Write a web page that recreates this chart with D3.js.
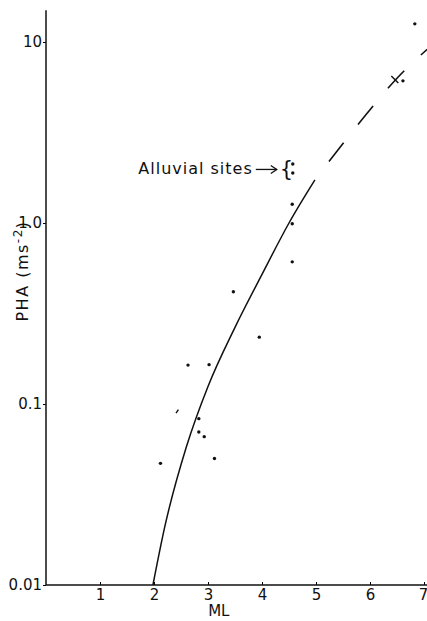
<!DOCTYPE html>
<html>
<head>
<meta charset="utf-8">
<script src="https://cdn.jsdelivr.net/npm/d3@7"></script>
<style>
  body { margin: 0; background: #fff; }
  svg { display: block; }
  text { font-family: "DejaVu Sans", sans-serif; fill: #111; }
</style>
</head>
<body>
<div id="chart"></div>
<script>
var width = 427;
var height = 621;

// observed PHA vs ML
var pointML  = [2.12, 2.63, 2.83, 2.83, 2.93, 3.02, 3.12, 3.47, 3.95, 4.56, 4.56, 4.56, 6.61, 6.83];
var pointPHA = [0.047, 0.164, 0.083, 0.070, 0.066, 0.165, 0.050, 0.417, 0.234, 0.61, 0.99, 1.27, 6.1, 12.6];

// alluvial sites
var alluvialML  = [4.57, 4.57];
var alluvialPHA = [2.12, 1.89];

// short hand-drawn marks instead of dots
var markML  = [2.43, 6.46];
var markPHA = [0.091, 6.2];

// fitted curve, solid part and dashed extrapolation
var curveML  = [1.98, 2.2, 2.6, 3.0, 3.5, 4.0, 4.5, 4.98];
var curvePHA = [0.010, 0.021, 0.058, 0.125, 0.265, 0.52, 1.0, 1.73];
var dashML   = [4.98, 5.5, 6.0, 6.5, 7.06];
var dashPHA  = [1.73, 2.75, 4.22, 6.31, 9.12];

var xTicks = [1, 2, 3, 4, 5, 6, 7];
var yTicks = [0.01, 0.1, 1, 10];
var yTickLabels = ["0.01", "0.1", "1.0", "10"];

var x = d3.scaleLinear().domain([0, 7]).range([46, 424]);
var y = d3.scaleLog().domain([0.01, 10]).range([585, 42]);

var svg = d3.select("#chart")
  .append("svg")
  .attr("width", width)
  .attr("height", height);

// axes
var xAxis = d3.axisBottom(x)
  .tickValues(xTicks)
  .tickFormat(d3.format("d"))
  .tickSizeInner(-3)
  .tickSizeOuter(0)
  .tickPadding(4);

var gx = svg.append("g")
  .attr("transform", "translate(0," + y(0.01) + ")")
  .call(xAxis);
gx.select(".domain").remove();
gx.selectAll("text")
  .style("font-size", "15px")
  .style("font-family", "DejaVu Sans, sans-serif")
  .attr("dx", function (d) { return d === 7 ? -1 : 0; });

var yAxis = d3.axisLeft(y)
  .tickValues(yTicks)
  .tickFormat(function (d, i) { return yTickLabels[i]; })
  .tickSizeInner(3)
  .tickSizeOuter(0)
  .tickPadding(1);

var gy = svg.append("g")
  .attr("transform", "translate(" + x(0) + ",0)")
  .call(yAxis);
gy.select(".domain").remove();
gy.selectAll("text").style("font-size", "15px").style("font-family", "DejaVu Sans, sans-serif");

svg.append("line")
  .attr("x1", x(0)).attr("x2", width)
  .attr("y1", y(0.01)).attr("y2", y(0.01))
  .attr("stroke", "#111").attr("stroke-width", 1.5);

svg.append("line")
  .attr("x1", x(0)).attr("x2", x(0))
  .attr("y1", y(0.01)).attr("y2", y(15))
  .attr("stroke", "#111").attr("stroke-width", 1.5);

// axis titles
svg.append("text")
  .attr("x", x(3.2))
  .attr("y", 616)
  .attr("text-anchor", "middle")
  .style("font-size", "15px")
  .text("ML");

var ylab = svg.append("text")
  .attr("transform", "translate(28,271) rotate(-90)")
  .attr("text-anchor", "middle")
  .style("font-size", "16px")
  .style("letter-spacing", "1.5px");
ylab.append("tspan").text("PHA (ms");
ylab.append("tspan").attr("dy", -6).style("font-size", "12px").text("-2");
ylab.append("tspan").attr("dy", 6).text(")");

// curve
var line = d3.line()
  .x(function (d) { return x(d[0]); })
  .y(function (d) { return y(d[1]); })
  .curve(d3.curveMonotoneX);

svg.append("path")
  .datum(d3.zip(curveML, curvePHA))
  .attr("d", line)
  .attr("fill", "none")
  .attr("stroke", "#111")
  .attr("stroke-width", 1.5);

svg.append("path")
  .datum(d3.zip(dashML, dashPHA))
  .attr("d", line)
  .attr("fill", "none")
  .attr("stroke", "#111")
  .attr("stroke-width", 1.6)
  .attr("stroke-dasharray", "24 23")
  .attr("stroke-dashoffset", 24);

// points
svg.selectAll("circle.pt")
  .data(d3.zip(pointML.concat(alluvialML), pointPHA.concat(alluvialPHA)))
  .enter()
  .append("circle")
  .attr("class", "pt")
  .attr("cx", function (d) { return x(d[0]); })
  .attr("cy", function (d) { return y(d[1]); })
  .attr("r", 1.7)
  .attr("fill", "#111");

svg.selectAll("line.mark")
  .data(d3.zip(markML, markPHA))
  .enter()
  .append("line")
  .attr("class", "mark")
  .attr("x1", function (d, i) { return x(d[0]) - (i ? 3.5 : 1.2); })
  .attr("y1", function (d, i) { return y(d[1]) - (i ? 3.5 : -1.8); })
  .attr("x2", function (d, i) { return x(d[0]) + (i ? 3.5 : 1.2); })
  .attr("y2", function (d, i) { return y(d[1]) + (i ? 3.5 : -1.8); })
  .attr("stroke", "#111")
  .attr("stroke-width", 1.4);

// alluvial annotation
var ax = x(alluvialML[0]);
var ay = (y(alluvialPHA[0]) + y(alluvialPHA[1])) / 2;
svg.append("text")
  .attr("x", ax - 40)
  .attr("y", ay + 6)
  .attr("text-anchor", "end")
  .style("font-size", "16px")
  .style("letter-spacing", "1px")
  .text("Alluvial sites");
svg.append("line")
  .attr("x1", ax - 37).attr("x2", ax - 16)
  .attr("y1", ay + 1).attr("y2", ay + 1)
  .attr("stroke", "#111").attr("stroke-width", 1.3);
svg.append("path")
  .attr("d", "M" + (ax - 22) + "," + (ay - 3) + "L" + (ax - 16) + "," + (ay + 1) + "L" + (ax - 22) + "," + (ay + 5))
  .attr("fill", "none").attr("stroke", "#111").attr("stroke-width", 1.3);
svg.append("text")
  .attr("x", ax - 13)
  .attr("y", ay + 8)
  .style("font-size", "21px")
  .text("{");
</script>
</body>
</html>
